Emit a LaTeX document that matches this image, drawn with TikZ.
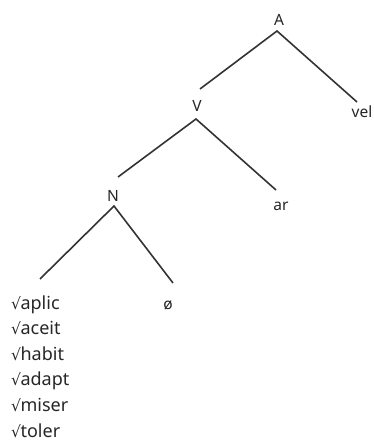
\documentclass[tikz,border=0pt]{standalone}
\usepackage{fontspec}
\setmainfont{Noto Sans}
\newfontfamily\symfont{DejaVu Sans}
\newcommand{\rt}{{\symfont\fontsize{15.5}{18}\selectfont √}}
\begin{document}
\begin{tikzpicture}[x=1pt,y=-1pt,
  lbl/.style={font=\fontsize{15.5}{18}\selectfont, text=black!85, inner sep=0pt, anchor=base},
  rootlbl/.style={font=\fontsize{18}{21}\selectfont, text=black!85, inner sep=0pt, anchor=base west},
  branch/.style={draw=black!80, line width=1.6pt}]
\useasboundingbox (0,0) rectangle (373,443);
% category labels (placed on their baselines)
\node[lbl] (A) at (279,26) {A};
\node[lbl] (V) at (197,112) {V};
\node[lbl] (N) at (113,202) {N};
\node[lbl] (vel) at (362,118) {vel};
\node[lbl] (ar) at (281,211) {ar};
\node[lbl] (zero) at (168,309) {ø};
% roots
\foreach \r [count=\i from 0] in {aplic,aceit,habit,adapt,miser,toler}
  \node[rootlbl] (root\i) at (11,309+25.6*\i) {\rt\kern-0.5pt\r};
% branch points and ends
\coordinate (Aa) at (277,31);
\coordinate (Al) at (200,89);
\coordinate (Ar) at (357,102);
\coordinate (Va) at (196,119);
\coordinate (Vl) at (118,177);
\coordinate (Vr) at (276,190);
\coordinate (Na) at (114,206);
\coordinate (Nl) at (40,279);
\coordinate (Nr) at (173,283);
\draw[branch] (Al) -- (Aa) -- (Ar);
\draw[branch] (Vl) -- (Va) -- (Vr);
\draw[branch] (Nl) -- (Na) -- (Nr);
\end{tikzpicture}
\end{document}
